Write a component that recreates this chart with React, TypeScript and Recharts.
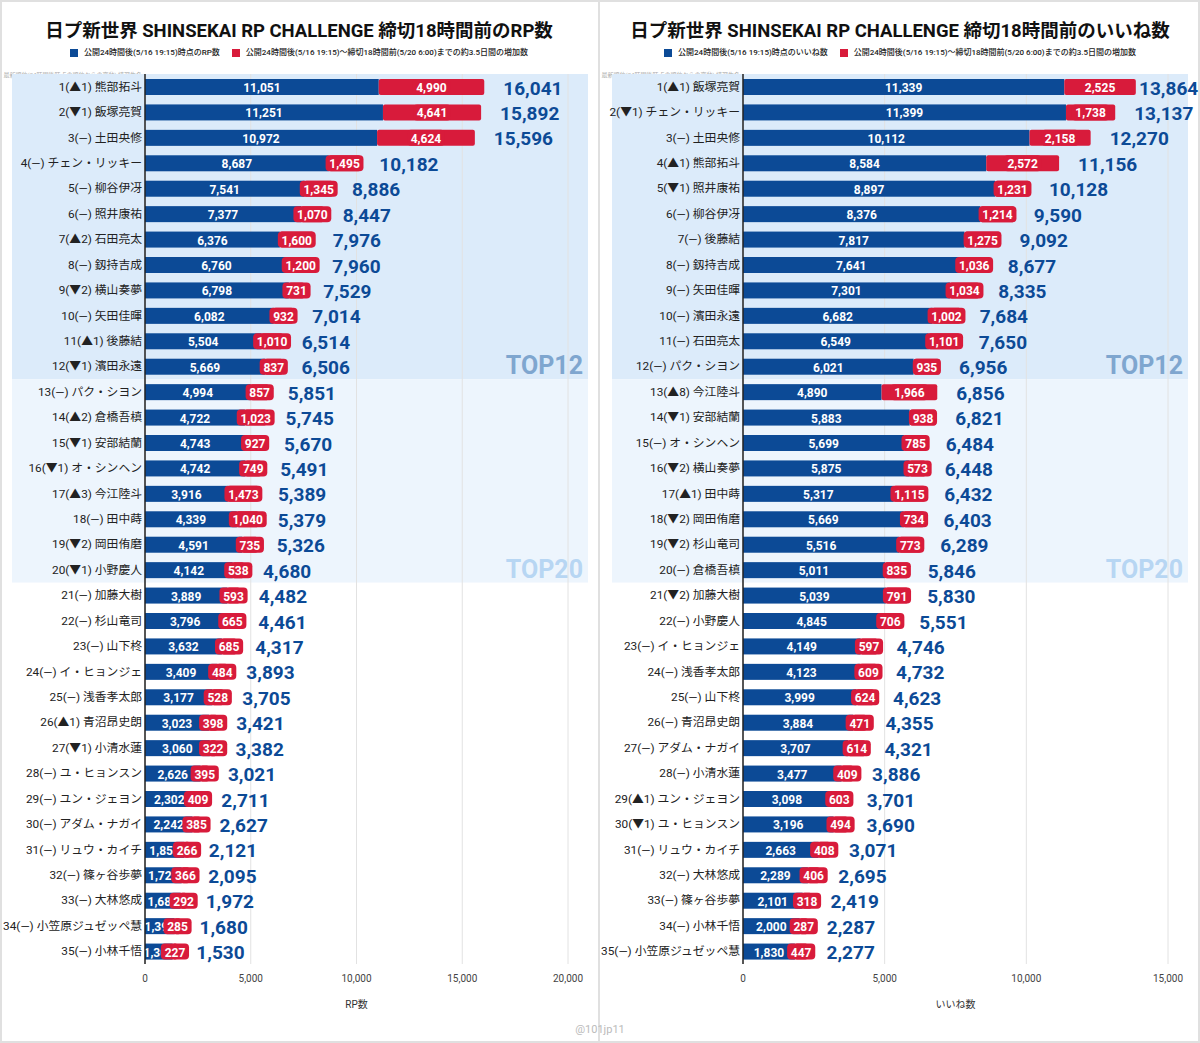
import React from 'react'
import { BarChart, Bar, XAxis, YAxis, CartesianGrid, ReferenceArea } from 'recharts'

// RP chart (left)
const rpNames = ['熊部拓斗', '飯塚亮賀', '土田央修', 'チェン・リッキー', '柳谷伊冴', '照井康祐', '石田亮太', '釼持吉成', '横山奏夢', '矢田佳暉', '後藤結', '濱田永遠', 'パク・シヨン', '倉橋吾槙', '安部結蘭', 'オ・シンヘン', '今江陸斗', '田中蒔', '岡田侑磨', '小野慶人', '加藤大樹', '杉山竜司', '山下柊', 'イ・ヒョンジェ', '浅香孝太郎', '青沼昂史朗', '小清水蓮', 'ユ・ヒョンスン', 'ユン・ジェヨン', 'アダム・ナガイ', 'リュウ・カイチ', '篠ヶ谷歩夢', '大林悠成', '小笠原ジュゼッペ慧', '小林千悟']
const rpMoves = ['▲1', '▼1', '—', '—', '—', '—', '▲2', '—', '▼2', '—', '▲1', '▼1', '—', '▲2', '▼1', '▼1', '▲3', '—', '▼2', '▼1', '—', '—', '—', '—', '—', '▲1', '▼1', '—', '—', '—', '—', '—', '—', '—', '—']
const rpBase = [11051, 11251, 10972, 8687, 7541, 7377, 6376, 6760, 6798, 6082, 5504, 5669, 4994, 4722, 4743, 4742, 3916, 4339, 4591, 4142, 3889, 3796, 3632, 3409, 3177, 3023, 3060, 2626, 2302, 2242, 1855, 1729, 1680, 1395, 1303]
const rpGain = [4990, 4641, 4624, 1495, 1345, 1070, 1600, 1200, 731, 932, 1010, 837, 857, 1023, 927, 749, 1473, 1040, 735, 538, 593, 665, 685, 484, 528, 398, 322, 395, 409, 385, 266, 366, 292, 285, 227]
const rpTicks = [0, 5000, 10000, 15000, 20000]

// いいね chart (right)
const likeNames = ['飯塚亮賀', 'チェン・リッキー', '土田央修', '熊部拓斗', '照井康祐', '柳谷伊冴', '後藤結', '釼持吉成', '矢田佳暉', '濱田永遠', '石田亮太', 'パク・シヨン', '今江陸斗', '安部結蘭', 'オ・シンヘン', '横山奏夢', '田中蒔', '岡田侑磨', '杉山竜司', '倉橋吾槙', '加藤大樹', '小野慶人', 'イ・ヒョンジェ', '浅香孝太郎', '山下柊', '青沼昂史朗', 'アダム・ナガイ', '小清水蓮', 'ユン・ジェヨン', 'ユ・ヒョンスン', 'リュウ・カイチ', '大林悠成', '篠ヶ谷歩夢', '小林千悟', '小笠原ジュゼッペ慧']
const likeMoves = ['▲1', '▼1', '—', '▲1', '▼1', '—', '—', '—', '—', '—', '—', '—', '▲8', '▼1', '—', '▼2', '▲1', '▼2', '▼2', '—', '▼2', '—', '—', '—', '—', '—', '—', '—', '▲1', '▼1', '—', '—', '—', '—', '—']
const likeBase = [11339, 11399, 10112, 8584, 8897, 8376, 7817, 7641, 7301, 6682, 6549, 6021, 4890, 5883, 5699, 5875, 5317, 5669, 5516, 5011, 5039, 4845, 4149, 4123, 3999, 3884, 3707, 3477, 3098, 3196, 2663, 2289, 2101, 2000, 1830]
const likeGain = [2525, 1738, 2158, 2572, 1231, 1214, 1275, 1036, 1034, 1002, 1101, 935, 1966, 938, 785, 573, 1115, 734, 773, 835, 791, 706, 597, 609, 624, 471, 614, 409, 603, 494, 408, 406, 318, 287, 447]
const likeTicks = [0, 5000, 10000, 15000]

const BLUE = '#0c4a96'
const RED = '#d81b3b'
const FONT = "Roboto, 'Noto Sans CJK JP', sans-serif"

const fmt = (v: number) => v.toLocaleString('en-US')

function textW(s: string, size: number) {
  let w = 0
  for (const c of s) w += c === ',' ? size * 0.25 : size * 0.56
  return w
}

function buildRows(names: string[], moves: string[], base: number[], gain: number[]) {
  return names.map((n, i) => ({
    label: `${i + 1}(${moves[i]}) ${n}`,
    base: base[i],
    gain: gain[i],
    total: base[i] + gain[i],
  }))
}

const BaseBar = (p: any) => {
  const { x, y, width, height, payload } = p
  return (
    <g>
      <rect x={x} y={y} width={width} height={height} fill={BLUE} />
      <text x={x + width / 2} y={y + height / 2 + 1} textAnchor="middle" dominantBaseline="central"
        fill="#fff" fontSize={12} fontWeight={700} fontFamily={FONT}>{fmt(payload.base)}</text>
    </g>
  )
}

const makeGainBar = (maxRight: number) => (p: any) => {
  const { x, y, width, height, payload } = p
  const cy = y + height / 2
  const s = fmt(payload.gain)
  const bw = textW(s, 12) + 8
  const cx = x + width / 2
  const t = fmt(payload.total)
  const tw = textW(t, 19)
  const tx = Math.min(x + width + 19, maxRight - tw)
  return (
    <g>
      <rect x={x} y={y} width={width} height={height} rx={2} fill={RED} />
      <rect x={cx - bw / 2} y={cy - 8} width={bw} height={16} rx={4} fill={RED} />
      <text x={cx} y={cy + 1} textAnchor="middle" dominantBaseline="central"
        fill="#fff" fontSize={12} fontWeight={700} fontFamily={FONT}>{s}</text>
      <text x={tx} y={cy + 1} dominantBaseline="central" fill={BLUE}
        fontSize={19} fontWeight={700} fontFamily={FONT}>{t}</text>
    </g>
  )
}

const NameTick = (p: any) => (
  <text x={p.x} y={p.y} textAnchor="end" dominantBaseline="central" fontSize={11.8}
    fill="#222" fontFamily={FONT}>{p.payload.value}</text>
)

const makeBand = (fill: string, tag: string, tagColor: string, leftExt: number) => (p: any) => {
  const { x, y, width, height } = p
  return (
    <g>
      <rect x={x - leftExt} y={y} width={width + leftExt + 20} height={height} fill={fill} />
      <text x={x + width + 15} y={y + height - 5} textAnchor="end" fill={tagColor}
        fontSize={25} fontWeight={700} fontFamily={FONT}>{tag}</text>
    </g>
  )
}

interface PanelProps {
  left: number
  width: number
  title: string
  baseLegend: string
  gainLegend: string
  axisTitle: string
  rows: ReturnType<typeof buildRows>
  ticks: number[]
  axisW: number
}

function Panel({ left, width, title, baseLegend, gainLegend, axisTitle, rows, ticks, axisW }: PanelProps) {
  const max = ticks[ticks.length - 1]
  return (
    <div style={{ position: 'absolute', left, top: 0, width, height: 1043 }}>
      <div style={{ position: 'absolute', top: 20, left: 0, width, textAlign: 'center', fontSize: 18.5, fontWeight: 700, lineHeight: '22px', color: '#111', whiteSpace: 'nowrap' }}>
        {title}
      </div>
      <div style={{ position: 'absolute', top: 47, left: 0, width, display: 'flex', justifyContent: 'center', alignItems: 'center', fontSize: 8, fontWeight: 500, lineHeight: '12px', color: '#222' }}>
        <span style={{ display: 'inline-block', width: 8, height: 8, background: BLUE, marginRight: 6 }} />
        <span style={{ marginRight: 12 }}>{baseLegend}</span>
        <span style={{ display: 'inline-block', width: 8, height: 8, background: RED, marginRight: 6 }} />
        <span>{gainLegend}</span>
      </div>
      <div style={{ position: 'absolute', top: 71, left: 0, width: axisW - 3, textAlign: 'right', fontSize: 6, lineHeight: '7px', color: '#aaa', whiteSpace: 'nowrap' }}>
        最新順位(24時間後時点の順位からの変動) 練習生名
      </div>
      <BarChart layout="vertical" width={width} height={1043} data={rows}
        margin={{ top: 74, right: width - 568, bottom: 31, left: 0 }} style={{ fontFamily: FONT }}>
        <ReferenceArea y1={rows[0].label} y2={rows[11].label} zIndex={-150}
          shape={makeBand('#dcebfa', 'TOP12', '#7fa6cf', axisW - 12)} />
        <ReferenceArea y1={rows[12].label} y2={rows[19].label} zIndex={-150}
          shape={makeBand('#edf5fd', 'TOP20', '#b7d6f3', axisW - 12)} />
        <CartesianGrid horizontal={false} stroke="#e2e2e2" />
        <XAxis type="number" domain={[0, max]} ticks={ticks} tickFormatter={fmt} axisLine={false}
          tickLine={false} tickSize={0} tickMargin={11} height={48}
          tick={{ fontSize: 10, fill: '#444', fontFamily: FONT }}
          label={{ value: axisTitle, position: 'insideBottom', offset: 4, fontSize: 10, fill: '#333' }} />
        <YAxis type="category" dataKey="label" width={axisW} interval={0} tickLine={false}
          tickSize={0} tickMargin={3} axisLine={{ stroke: '#222', strokeWidth: 1.5 }} tick={<NameTick />} />
        <Bar dataKey="base" stackId="a" barSize={16} fill={BLUE} shape={BaseBar} isAnimationActive={false} />
        <Bar dataKey="gain" stackId="a" barSize={16} fill={RED} shape={makeGainBar(width - 3)} isAnimationActive={false} />
      </BarChart>
    </div>
  )
}

export default function App() {
  const rpRows = buildRows(rpNames, rpMoves, rpBase, rpGain)
  const likeRows = buildRows(likeNames, likeMoves, likeBase, likeGain)
  return (
    <div style={{ position: 'absolute', left: 0, top: 0, width: 1200, height: 1043, background: '#fff', fontFamily: FONT, overflow: 'hidden' }}>
      <div style={{ position: 'absolute', left: 0, top: 0, width: 1196, height: 1039, border: '2px solid #e0e0e0' }} />
      <div style={{ position: 'absolute', left: 598, top: 0, width: 2, height: 1043, background: '#e0e0e0' }} />
      <Panel left={0} width={598} title="日プ新世界 SHINSEKAI RP CHALLENGE 締切18時間前のRP数"
        baseLegend="公開24時間後(5/16 19:15)時点のRP数"
        gainLegend="公開24時間後(5/16 19:15)～締切18時間前(5/20 6:00)までの約3.5日間の増加数"
        axisTitle="RP数" rows={rpRows} ticks={rpTicks} axisW={145} />
      <Panel left={600} width={600} title="日プ新世界 SHINSEKAI RP CHALLENGE 締切18時間前のいいね数"
        baseLegend="公開24時間後(5/16 19:15)時点のいいね数"
        gainLegend="公開24時間後(5/16 19:15)～締切18時間前(5/20 6:00)までの約3.5日間の増加数"
        axisTitle="いいね数" rows={likeRows} ticks={likeTicks} axisW={143} />
      <div style={{ position: 'absolute', left: 0, width: 1200, top: 1023, textAlign: 'center', fontSize: 11, color: '#bbb' }}>@101jp11</div>
    </div>
  )
}
